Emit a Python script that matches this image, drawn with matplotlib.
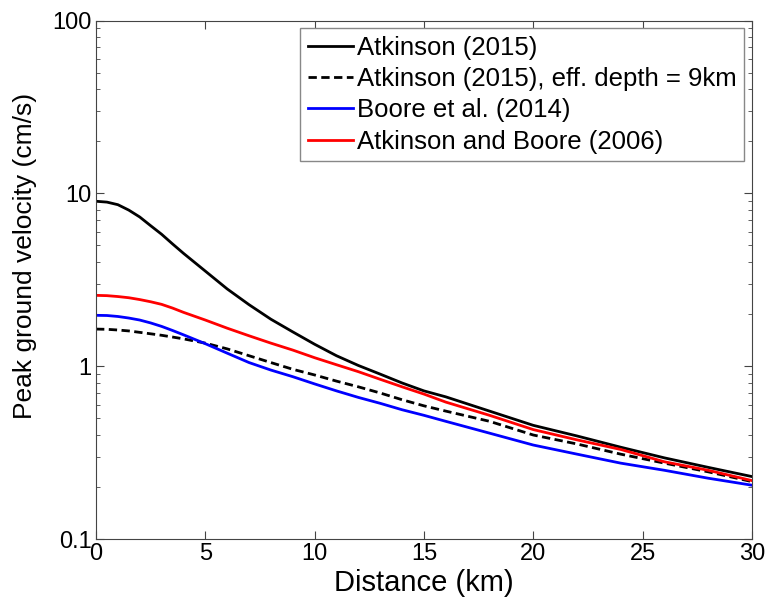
import numpy as np
import matplotlib
matplotlib.use("Agg")
import matplotlib.pyplot as plt

# distance (km) and peak ground velocity (cm/s)
dist = [0, 0.5, 1, 1.5, 2, 2.5, 3, 3.5, 4, 5, 6, 7, 8, 9, 10, 11, 12, 13,
        14, 15, 16, 18, 20, 22, 24, 26, 28, 30]
a15 = [9.0, 8.9, 8.6, 8.0, 7.3, 6.5, 5.8, 5.1, 4.5, 3.55, 2.8, 2.27, 1.87,
       1.58, 1.34, 1.15, 1.01, 0.90, 0.80, 0.72, 0.665, 0.55, 0.455, 0.395,
       0.34, 0.295, 0.26, 0.23]
a15_d9 = [1.64, 1.635, 1.62, 1.60, 1.57, 1.54, 1.51, 1.475, 1.44, 1.36, 1.26,
          1.15, 1.05, 0.96, 0.89, 0.82, 0.76, 0.70, 0.64, 0.59, 0.55, 0.48,
          0.40, 0.355, 0.31, 0.275, 0.245, 0.215]
b14 = [1.97, 1.965, 1.94, 1.90, 1.85, 1.78, 1.70, 1.61, 1.52, 1.35, 1.19,
       1.05, 0.95, 0.87, 0.79, 0.72, 0.66, 0.61, 0.56, 0.52, 0.48, 0.41,
       0.35, 0.31, 0.275, 0.25, 0.225, 0.205]
ab06 = [2.57, 2.56, 2.53, 2.49, 2.43, 2.36, 2.28, 2.17, 2.05, 1.85, 1.66,
        1.50, 1.36, 1.24, 1.12, 1.02, 0.93, 0.84, 0.76, 0.69, 0.62, 0.52,
        0.43, 0.375, 0.33, 0.28, 0.25, 0.218]

labels = ["Atkinson (2015)", "Atkinson (2015), eff. depth = 9km",
          "Boore et al. (2014)", "Atkinson and Boore (2006)"]

plt.rcParams['font.family'] = ['Liberation Sans', 'DejaVu Sans']

fig = plt.figure(figsize=(7.68, 6.03), dpi=100)
ax = fig.add_axes([0.125, 0.106, 0.854, 0.86])

ax.plot(dist, a15, color="black", lw=2, label=labels[0])
ax.plot(dist, a15_d9, color="black", lw=2, ls=(0, (3, 1.6)), label=labels[1])
ax.plot(dist, b14, color="blue", lw=2, label=labels[2])
ax.plot(dist, ab06, color="red", lw=2, label=labels[3])

ax.set_yscale("log")
ax.set_xlim(0, 30)
ax.set_ylim(0.1, 100)
ax.set_xticks([0, 5, 10, 15, 20, 25, 30])
ax.set_yticks([0.1, 1, 10, 100])
ax.set_yticklabels(["0.1", "1", "10", "100"])

ax.tick_params(which="both", direction="in", top=True, right=True,
               colors="#444444", labelcolor="black", labelsize=17)
ax.tick_params(which="major", length=6, pad=3)
ax.tick_params(which="minor", length=3)
for s in ax.spines.values():
    s.set_color("#444444")

ax.set_xlabel("Distance (km)", fontsize=21, labelpad=3)
ax.set_ylabel("Peak ground velocity (cm/s)", fontsize=19)
ax.yaxis.set_label_coords(-0.09, 0.546)

leg = ax.legend(loc="upper right", fontsize=18.5, fancybox=False,
                handlelength=1.75, handletextpad=0.15, borderpad=0.3,
                labelspacing=0.28, borderaxespad=0.3, framealpha=1)
leg.get_frame().set_edgecolor("#888888")
leg.get_frame().set_linewidth(1)

fig.savefig("out.png", dpi=100)
